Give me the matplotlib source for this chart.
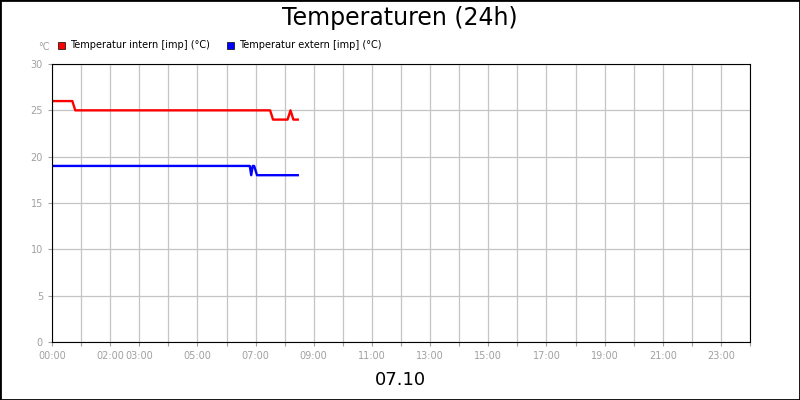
import matplotlib
matplotlib.use("Agg")
import matplotlib.pyplot as plt
from matplotlib.patches import Rectangle

red_t = [0, 0.7, 0.8, 7.5, 7.6, 8.1, 8.2, 8.3, 8.45]
red_v = [26, 26, 25, 25, 24, 24, 25, 24, 24]
blue_t = [0, 6.8, 6.85, 6.9, 6.95, 7.05, 8.45]
blue_v = [19, 19, 18, 19, 19, 18, 18]
tick_hours = [0, 2, 3, 5, 7, 9, 11, 13, 15, 17, 19, 21, 23]

fig = plt.figure(figsize=(8, 4), dpi=100)
fig.patches.append(Rectangle((0, 0), 1, 1, transform=fig.transFigure, fill=False, ec="black", lw=2))
ax = fig.add_axes([52/800, 1-342/400, 698/800, 278/400])
ax.plot(red_t, red_v, color="#ff0000", lw=1.7)
ax.plot(blue_t, blue_v, color="#0000ff", lw=1.7)
ax.set_xlim(0, 24)
ax.set_ylim(0, 30)
ax.set_yticks(range(0, 31, 5))
ax.set_xticks(range(0, 25))
ax.set_xticklabels([("%02d:00" % h) if h in tick_hours else "" for h in range(25)])
ax.grid(True, color="#c4c4c4", lw=0.9)
ax.set_axisbelow(True)
ax.tick_params(colors="#a0a0a0", labelsize=7, length=3)
for l in ax.get_xticklabels() + ax.get_yticklabels():
    l.set_color("#a0a0a0")
for s in ax.spines.values():
    s.set_color("black")
fig.text(0.5, 0.955, "Temperaturen (24h)", ha="center", va="center", fontsize=17)
fig.text(0.5, 0.05, "07.10", ha="center", va="center", fontsize=13)
fig.text(38/800, 1-47/400, "°C", fontsize=7, color="#a0a0a0", va="center")
fig.patches.append(Rectangle((58/800, 1-49/400), 7/800, 7/400, transform=fig.transFigure, fc="red", ec="black", lw=0.5))
fig.text(70/800, 1-45/400, "Temperatur intern [imp] (°C)", fontsize=7, va="center")
fig.patches.append(Rectangle((227/800, 1-49/400), 7/800, 7/400, transform=fig.transFigure, fc="blue", ec="black", lw=0.5))
fig.text(239/800, 1-45/400, "Temperatur extern [imp] (°C)", fontsize=7, va="center")
fig.savefig("out.png")
